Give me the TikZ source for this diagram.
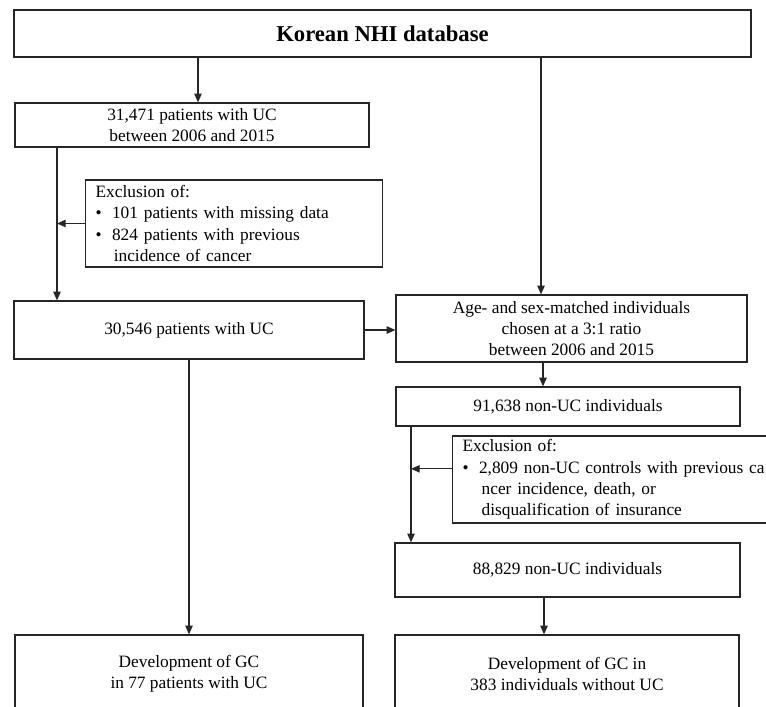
\documentclass[tikz,border=0pt]{standalone}
\usepackage{fontspec}
\setmainfont{Liberation Serif}
\usetikzlibrary{arrows.meta}

\begin{document}
\begin{tikzpicture}[x=0.75pt, y=-0.75pt]
\tikzstyle{box}       = [rectangle, draw=black!85, line width=0.9pt, align=center, inner sep=0pt,
                         font=\fontsize{13}{16}\selectfont]
\tikzstyle{box_title} = [box, font=\fontsize{17}{20}\selectfont\bfseries]
\tikzstyle{excl}      = [box, align=left, inner xsep=7.5pt, anchor=west]
\tikzstyle{arrow}     = [draw=black!85, line width=0.9pt, -{Triangle[length=6.5pt, width=5.5pt]}]

\clip (0,0) rectangle (766,706);
\fill[white] (0,0) rectangle (766,706);

% UC side
\node (db)      [box_title, minimum width=552.75pt, minimum height=35.25pt] at (382.5,33.5) {Korean NHI database};
\node (uc_all)  [box, minimum width=265.5pt, minimum height=33pt] at (192,125) {31,471 patients with UC\\between 2006 and 2015};
\node (excl_uc) [excl, text width=207.75pt, minimum height=65.25pt] at (85,223.5)
  {Exclusion of:\\\textbullet\hspace{0.6em}101 patients with missing data\\\textbullet\hspace{0.6em}824 patients with previous\\\hspace*{1.05em}incidence of cancer};
\node (uc)      [box, minimum width=262.5pt, minimum height=43.5pt] at (189,330) {30,546 patients with UC};
\node (gc_uc)   [box, minimum width=261pt, minimum height=58.5pt] at (189,674) {Development of GC\\in 77 patients with UC};

% control side
\node (ctrl_match) [box, minimum width=263.25pt, minimum height=50.25pt] at (571.5,328.5) {Age- and sex-matched individuals\\chosen at a 3:1 ratio\\between 2006 and 2015};
\node (ctrl_all)   [box, minimum width=258pt, minimum height=29.25pt] at (568,406.5) {91,638 non-UC individuals};
\node (excl_ctrl)  [excl, text width=231pt, minimum height=65.25pt] at (452,479.5)
  {Exclusion of:\\\textbullet\hspace{0.6em}2,809 non-UC controls with previous ca\\\hspace*{1.1em}ncer incidence, death, or\\\hspace*{1.1em}disqualification of insurance};
\node (ctrl)       [box, minimum width=258.75pt, minimum height=40.5pt] at (567.5,570) {88,829 non-UC individuals};
\node (gc_ctrl)    [box, minimum width=258pt, minimum height=58.5pt] at (567,674) {Development of GC in\\383 individuals without UC};

\draw [arrow] (db.south -| 198,0)       -- (uc_all.north -| 198,0);
\draw [arrow] (db.south -| 541,0)       -- (ctrl_match.north -| 541,0);
\draw [arrow] (uc_all.south -| 57,0)    -- (uc.north -| 57,0);
\draw [arrow] (excl_uc.west)            -- (excl_uc.west -| 57,0);
\draw [arrow] (uc.east)                 -- (uc.east -| ctrl_match.west);
\draw [arrow] (uc.south)                -- (gc_uc.north);
\draw [arrow] (ctrl_match.south -| 543,0) -- (ctrl_all.north -| 543,0);
\draw [arrow] (ctrl_all.south -| 411,0) -- (ctrl.north -| 411,0);
\draw [arrow] ([yshift=8pt]excl_ctrl.west) -- ([yshift=8pt]excl_ctrl.west -| 411,0);
\draw [arrow] (ctrl.south -| 544,0)     -- (gc_ctrl.north -| 544,0);
\end{tikzpicture}
\end{document}
